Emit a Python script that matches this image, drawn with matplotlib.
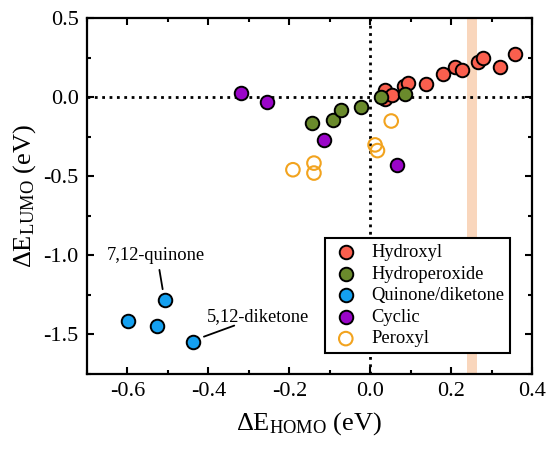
import matplotlib
matplotlib.use("Agg")
import matplotlib.pyplot as plt
from matplotlib.ticker import MultipleLocator

plt.rcParams['font.family'] = ['Liberation Serif', 'DejaVu Serif']
plt.rcParams['mathtext.fontset'] = 'custom'
plt.rcParams['mathtext.rm'] = 'Liberation Serif'
plt.rcParams['mathtext.it'] = 'Liberation Serif:italic'
plt.rcParams['axes.unicode_minus'] = False

# ---- data ----
hydroxyl_x = [0.037, 0.036, 0.054, 0.083, 0.094, 0.137, 0.181, 0.210, 0.228, 0.266, 0.278, 0.320, 0.357]
hydroxyl_y = [0.048, -0.015, 0.013, 0.069, 0.092, 0.082, 0.143, 0.190, 0.170, 0.222, 0.250, 0.190, 0.270]

hydroperoxide_x = [-0.145, -0.091, -0.072, -0.022, 0.027, 0.087]
hydroperoxide_y = [-0.166, -0.145, -0.082, -0.061, 0.000, 0.019]

quinone_x = [-0.599, -0.527, -0.506, -0.438]
quinone_y = [-1.417, -1.449, -1.281, -1.545]

cyclic_x = [-0.319, -0.255, -0.115, 0.066]
cyclic_y = [0.029, -0.029, -0.270, -0.428]

peroxyl_x = [-0.191, -0.139, -0.139, 0.012, 0.018, 0.052]
peroxyl_y = [-0.459, -0.417, -0.480, -0.302, -0.338, -0.151]

band = [0.240, 0.265]

labels = ["7,12-quinone", "5,12-diketone"]
label_xy = [(-0.531, -1.00), (-0.403, -1.386)]
line_start = [(-0.521, -1.092), (-0.411, -1.514)]
line_end = [(-0.513, -1.214), (-0.336, -1.444)]

xticks = [-0.6, -0.4, -0.2, 0.0, 0.2, 0.4]
yticks = [0.5, 0.0, -0.5, -1.0, -1.5]

# ---- figure ----
fig = plt.figure(figsize=(5.5, 4.5), dpi=100)
ax = fig.add_axes([87/550, 1-374/450, (532-87)/550, (374-18)/450])

ax.axvspan(band[0], band[1], color='#F9D6BC', lw=0, zorder=0)
ax.axhline(0, color='black', ls=':', lw=2, zorder=1)
ax.axvline(0, color='black', ls=':', lw=2, zorder=1)

ms = 95
elw = 1.4
ax.scatter(hydroxyl_x, hydroxyl_y, s=ms, c='#FA5F4E', edgecolors='black', linewidths=elw, zorder=3, label='Hydroxyl')
ax.scatter(hydroperoxide_x, hydroperoxide_y, s=ms, c='#6A8A2C', edgecolors='black', linewidths=elw, zorder=4, label='Hydroperoxide')
ax.scatter(quinone_x, quinone_y, s=ms, c='#14A0F0', edgecolors='black', linewidths=elw, zorder=3, label='Quinone/diketone')
ax.scatter(cyclic_x, cyclic_y, s=ms, c='#9A05C8', edgecolors='black', linewidths=elw, zorder=3, label='Cyclic')
ax.scatter(peroxyl_x, peroxyl_y, s=ms, facecolors='none', edgecolors='#F2A31E', linewidths=1.5, zorder=3, label='Peroxyl')

for lab, pos, a, b in zip(labels, label_xy, line_start, line_end):
    ax.annotate('', xy=b, xytext=a,
                arrowprops=dict(arrowstyle='-', color='black', lw=1.3, shrinkA=0, shrinkB=0))
ha = ['center', 'left']
for lab, pos, h in zip(labels, label_xy, ha):
    ax.text(pos[0], pos[1], lab, fontsize=13.3, ha=h, va='center')

ax.set_xlim(-0.7, 0.4)
ax.set_ylim(-1.75, 0.5)
ax.set_xticks(xticks)
ax.set_yticks(yticks)
ax.xaxis.set_minor_locator(MultipleLocator(0.1))
ax.yaxis.set_minor_locator(MultipleLocator(0.25))
ax.tick_params(which='both', direction='in', top=True, right=True, width=1.5)
ax.tick_params(which='major', length=5, labelsize=16, pad=6)
ax.tick_params(which='minor', length=3)
for s in ax.spines.values():
    s.set_linewidth(1.6)

ax.set_xlabel(r'$\Delta$E$_{\mathrm{HOMO}}$ (eV)', fontsize=19, labelpad=6)
ax.set_ylabel(r'$\Delta$E$_{\mathrm{LUMO}}$ (eV)', fontsize=19, labelpad=4)

leg = ax.legend(loc='lower right', bbox_to_anchor=(0.951, 0.059), borderaxespad=0,
                fontsize=13.3, frameon=True, fancybox=False, edgecolor='black',
                handletextpad=0.6, labelspacing=0.25, borderpad=0.3, handlelength=1.6)
leg.get_frame().set_linewidth(1.5)
leg.get_frame().set_alpha(1)

fig.savefig('out.png', dpi=100)
